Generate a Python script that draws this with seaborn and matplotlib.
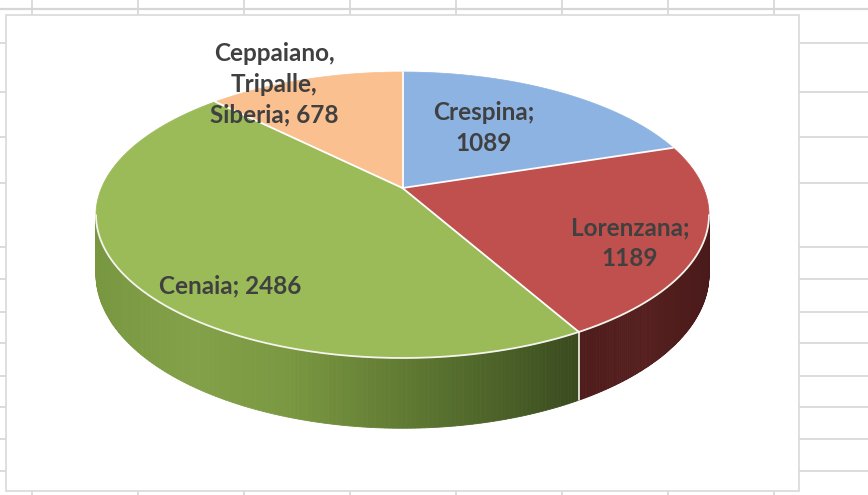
import numpy as np
import matplotlib
matplotlib.use("Agg")
import matplotlib.pyplot as plt
from matplotlib.colors import LinearSegmentedColormap
from matplotlib.patches import Rectangle
import seaborn as sns

# data
names = ["Crespina", "Lorenzana", "Cenaia", "Ceppaiano,\nTripalle,\nSiberia"]
values = [1089, 1189, 2486, 678]
label_sep = ["\n", "\n", " ", " "]

sns.set_theme(style="white")
plt.rcParams["font.family"] = ["Lato", "DejaVu Sans"]

top_colors = sns.color_palette(["#8DB3E2", "#C0504D", "#9BBB59", "#FAC08F"])
# wall shading, listed left -> right
wall_colors = [
    ["#5E82B0", "#3E5A80"],
    ["#4E1C1B", "#561F1F", "#4A1A1A"],
    ["#789740", "#82A148", "#7A9841", "#647F35", "#4F662A", "#3A4B1F"],
    ["#C0885A", "#9A6A40"],
]
label_pos = [(484, 128), (630, 243), (230, 286), (274, 84)]
text_color = "#404040"

# perspective view of the pie (pixel space)
cx, cy = 402.5, 188.0
sx, sy = 301.0, 137.9
k = 0.1888
depth = 57.0
t_right = -np.degrees(np.arcsin(k))
t_left = -180 - t_right


def proj(t_deg, drop=False):
    t = np.radians(t_deg)
    X, Y = np.cos(t), np.sin(t)
    w = 1 + k * Y
    px = cx + sx * X / w
    py = cy - sy * Y / w
    if drop:
        py = py + depth / w
    return px, py


fig = plt.figure(figsize=(8.68, 4.95), dpi=100)
ax = fig.add_axes([0, 0, 1, 1])
ax.set_xlim(0, 868)
ax.set_ylim(495, 0)
ax.axis("off")

# spreadsheet grid behind the chart
grid_c = "#D6D6D6"
ax.axhline(9, color=grid_c, lw=1.6, zorder=0)
for gy in [43, 92, 137, 183, 247, 279, 312, 343, 376, 407, 439, 471]:
    ax.axhline(gy, color=grid_c, lw=1.2, zorder=0)
for gx in [32, 138, 244, 350, 456, 562, 668, 774]:
    ax.axvline(gx, color=grid_c, lw=1.2, zorder=0)
ax.add_patch(Rectangle((6, 15), 793, 476, fc="white", ec="#D9D9D9", lw=1.2, zorder=1))

# slice angles, clockwise from 12 o'clock
fracs = np.array(values) / np.sum(values)
bounds = 90 - 360 * np.concatenate([[0], np.cumsum(fracs)])

# side walls
for i in range(len(values)):
    a = min(bounds[i], t_right)
    b = max(bounds[i + 1], t_left)
    if a <= b:
        continue
    cmap = LinearSegmentedColormap.from_list(f"wall{i}", wall_colors[i])
    edges = np.linspace(a, b, 160)
    xa, _ = proj(a)
    xb, _ = proj(b)
    for t0, t1 in zip(edges[:-1], edges[1:]):
        tt = np.linspace(t0, t1, 3)
        tx, ty = proj(tt)
        bx, by = proj(tt[::-1], drop=True)
        f = (np.mean(tx) - min(xa, xb)) / abs(xa - xb)
        c = cmap(f)
        ax.fill(np.r_[tx, bx], np.r_[ty, by], color=c, lw=0.6, ec=c, zorder=2)
    # light seam between walls
    if bounds[i] < t_right:
        x0, y0 = proj(bounds[i])
        x1, y1 = proj(bounds[i], drop=True)
        ax.plot([x0, x1], [y0, y1], color="#F4F4EC", lw=1.2, zorder=3)

# top faces
for i in range(len(values)):
    tt = np.linspace(bounds[i], bounds[i + 1], 200)
    px, py = proj(tt)
    ax.fill(np.r_[cx, px], np.r_[cy, py], color=top_colors[i], lw=0.5,
            ec=top_colors[i], zorder=4)

# rim highlight and slice separators
tt = np.linspace(t_right, t_left, 300)
rx, ry = proj(tt)
ax.plot(rx, ry, color="#F4F4EC", lw=1.3, zorder=5)
for b in bounds[:-1]:
    px, py = proj(b)
    ax.plot([cx, px], [cy, py], color="white", lw=1.3, zorder=5)

# data labels
for i, (name, val) in enumerate(zip(names, values)):
    ax.text(*label_pos[i], f"{name};{label_sep[i]}{val}", ha="center", va="center",
            fontsize=17.5, fontweight="bold", color=text_color, linespacing=1.42,
            zorder=6)

fig.savefig("out.png", dpi=100)
